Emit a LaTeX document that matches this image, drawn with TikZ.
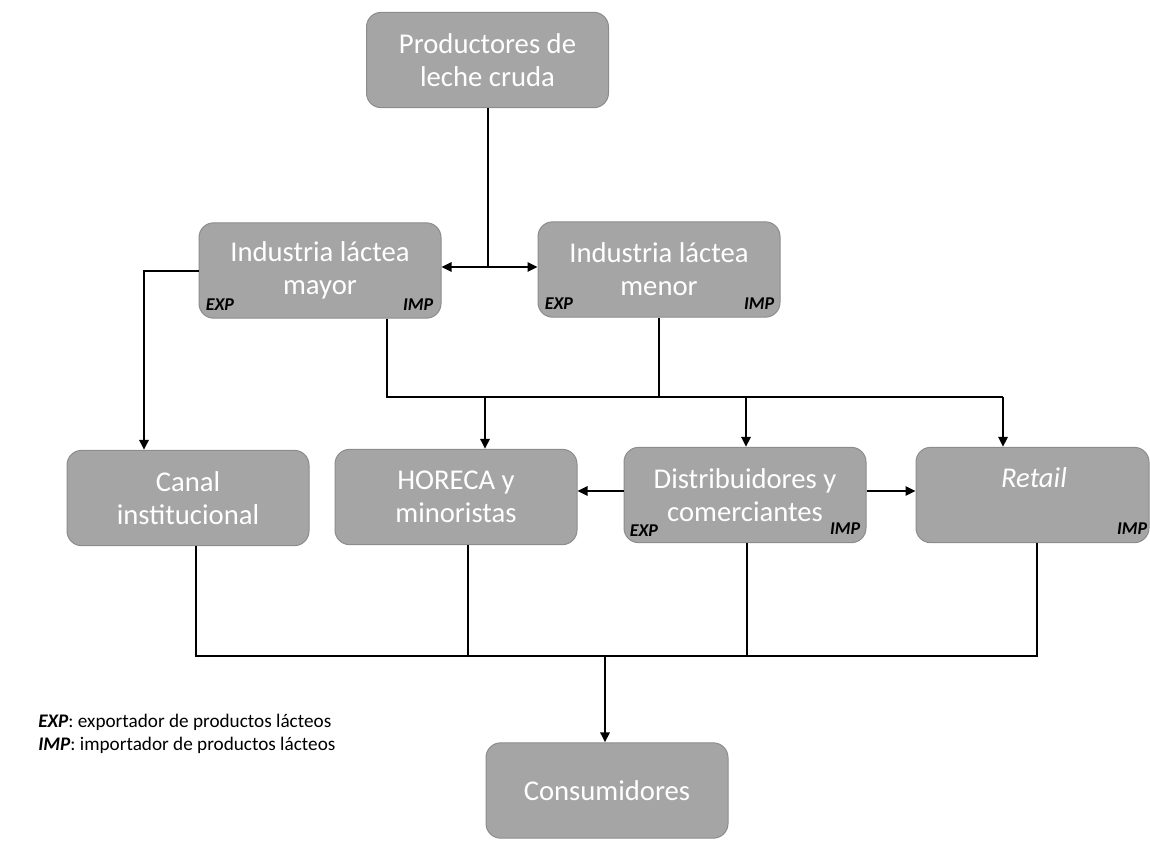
\documentclass[tikz,border=0pt]{standalone}
\usepackage{fontspec}
\setmainfont{Carlito}
\usetikzlibrary{arrows.meta}
\definecolor{boxfill}{HTML}{A5A5A5}
\definecolor{boxline}{HTML}{8C8C8C}
\begin{document}
\begin{tikzpicture}[x=0.75pt,y=-0.75pt,
  box/.style={draw=boxline, line width=0.75pt, fill=boxfill, rounded corners=11pt,
    minimum width=181.5pt, minimum height=71.5pt, text=white, align=center,
    font=\fontsize{21.5}{24.75}\selectfont, inner sep=0pt},
  tag/.style={font=\fontsize{13.5}{15}\selectfont\bfseries\itshape, inner sep=0pt},
  conn/.style={line width=1.5pt},
  arr/.style={conn, -{Triangle[length=7.5pt,width=7pt]}},
  darr/.style={conn, {Triangle[length=7.5pt,width=7pt]}-{Triangle[length=7.5pt,width=7pt]}},
  legend/.style={font=\fontsize{14.4}{17}\selectfont, anchor=west, inner sep=0pt}
]
\useasboundingbox (0,0) rectangle (1150,840);

% boxes
\node[box] (prod) at (487.5,60) {Productores de\\leche cruda};
\node[box] (mayor) at (320,270.5) {Industria láctea\\mayor};
\node[box] (menor) at (659,269.5) {Industria láctea\\menor};
\node[box] (canal) at (188,498) {Canal\\institucional};
\node[box] (horeca) at (456,497) {HORECA y\\minoristas};
\node[box] (distrib) at (745,495) {Distribuidores y\\comerciantes};
\node[box, minimum width=174.75pt] (retail) at (1032.5,495) {};
\node[text=white, font=\fontsize{21.5}{24.75}\selectfont\itshape, inner sep=0pt] (retailtxt) at (1034,478) {Retail};
\node[box] (cons) at (607,790.5) {Consumidores};

% tags
\node[tag, anchor=west] (mayorexp) at ([shift={(7,-14)}]mayor.south west) {EXP};
\node[tag, anchor=east] (mayorimp) at ([shift={(-8,-14)}]mayor.south east) {IMP};
\node[tag, anchor=west] (menorexp) at ([shift={(7,-14)}]menor.south west) {EXP};
\node[tag, anchor=east] (menorimp) at ([shift={(-6,-14)}]menor.south east) {IMP};
\node[tag, anchor=west] (distexp) at ([shift={(6,-13)}]distrib.south west) {EXP};
\node[tag, anchor=east] (distimp) at ([shift={(-6,-15)}]distrib.south east) {IMP};
\node[tag, anchor=east] (retimp) at ([shift={(-2,-15)}]retail.south east) {IMP};

% coordinates
\coordinate (j1) at (487.5,267);
\coordinate (c1) at (144,270.5);
\coordinate (m1) at (387,397);
\coordinate (m2) at (1003,397);
\coordinate (m3) at (485,397);
\coordinate (m4) at (746,397);
\coordinate (b1) at (196,656);
\coordinate (b2) at (468,656);
\coordinate (b3) at (747,656);
\coordinate (b4) at (1037,656);
\coordinate (b5) at (605,656);

% connectors top
\draw[conn] (prod.south) -- (j1);
\draw[arr] (j1) -- (mayor.east |- j1);
\draw[arr] (j1) -- (menor.west |- j1);
\draw[arr] (mayor.west) -- (c1) -- (c1 |- canal.north);

% middle bus
\draw[conn] (mayor.south -| m1) -- (m1) -- (m2);
\draw[conn] (menor.south) -- (menor.south |- m1);
\draw[arr] (m3) -- (m3 |- horeca.north);
\draw[arr] (m4) -- (m4 |- distrib.north);
\draw[arr] (m2) -- (m2 |- retail.north);

% side arrows
\draw[arr] ([yshift=3]distrib.west) -- ([yshift=3]horeca.east |- distrib.west);
\draw[arr] ([yshift=3]distrib.east) -- ([yshift=3]retail.west |- distrib.east);

% bottom bus
\draw[conn] (canal.south -| b1) -- (b1) -- (b4) -- (retail.south -| b4);
\draw[conn] (horeca.south -| b2) -- (b2);
\draw[conn] (distrib.south -| b3) -- (b3);
\draw[arr] (b5) -- (b5 |- cons.north);

% legend
\node[legend] (leg1) at (38,722) {\textbf{\textit{EXP}}: exportador de productos lácteos};
\node[legend] (leg2) at (38,745) {\textbf{\textit{IMP}}: importador de productos lácteos};
\end{tikzpicture}
\end{document}
